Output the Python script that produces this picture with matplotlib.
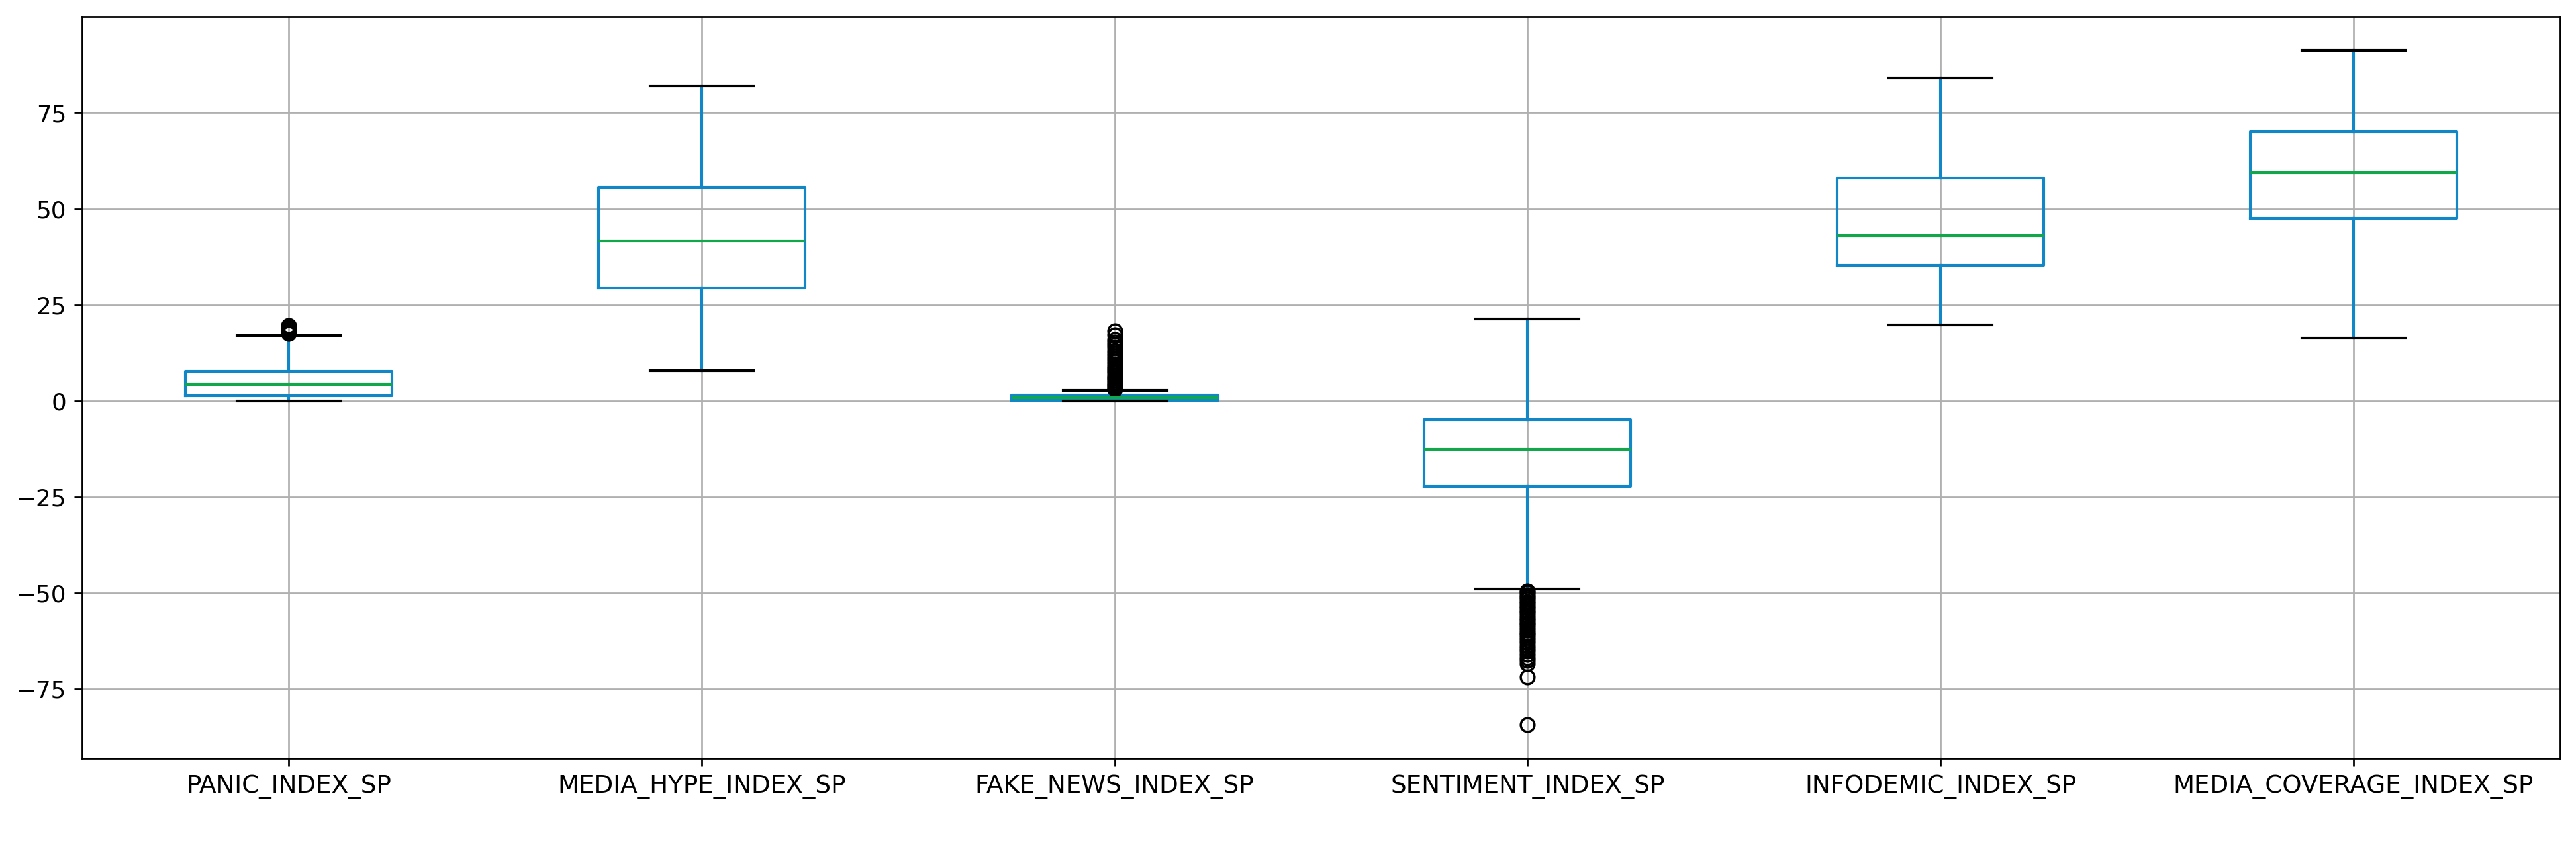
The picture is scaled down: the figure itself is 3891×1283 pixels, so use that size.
import matplotlib
matplotlib.use("Agg")
import matplotlib.pyplot as plt

# --- Data (box summary per column) ---
labels = ["PANIC_INDEX_SP", "MEDIA_HYPE_INDEX_SP", "FAKE_NEWS_INDEX_SP",
          "SENTIMENT_INDEX_SP", "INFODEMIC_INDEX_SP", "MEDIA_COVERAGE_INDEX_SP"]
whislo = [0.0, 7.8, 0.0, -49.0, 19.7, 16.3]
q1 = [1.4, 29.5, 0.2, -22.3, 35.2, 47.5]
med = [4.2, 41.7, 0.9, -12.7, 43.1, 59.4]
q3 = [7.7, 55.6, 1.5, -4.8, 58.0, 70.0]
whishi = [17.0, 81.9, 2.8, 21.3, 84.1, 91.3]

panic_out = [17.6, 18.1, 18.6, 19.1, 19.6]
hype_out = []
fake_out = [3.0, 3.4, 3.9, 4.3, 4.8, 5.3, 5.8, 6.2, 6.7, 7.3, 7.9, 8.4, 9.0,
            9.6, 10.3, 11.0, 11.7, 12.4, 13.1, 13.9, 14.6, 15.3, 16.0, 17.2, 18.3]
sent_out = [-49.4, -49.9, -50.5, -51.1, -51.6, -52.2, -52.8, -53.4, -54.0,
            -54.6, -55.2, -55.8, -56.5, -57.1, -57.7, -58.3, -59.0, -59.6,
            -60.3, -60.9, -61.6, -62.3, -63.0, -63.7, -64.4, -65.2, -66.0,
            -66.8, -67.6, -68.5, -71.8, -84.3]
info_out = []
cover_out = []
fliers = [panic_out, hype_out, fake_out, sent_out, info_out, cover_out]

stats = []
for i in range(len(labels)):
    stats.append({"label": labels[i], "whislo": whislo[i], "q1": q1[i],
                  "med": med[i], "q3": q3[i], "whishi": whishi[i],
                  "fliers": fliers[i]})

# --- Plot ---
blue = "#1287c8"
green = "#10a84a"
lw = 1.2

fig = plt.figure(figsize=(15.68, 5.17), dpi=248.2)
ax = fig.add_axes([0.0319, 0.1067, 0.9617, 0.8738])
ax.bxp(stats, widths=0.5,
       boxprops=dict(color=blue, linewidth=lw),
       whiskerprops=dict(color=blue, linewidth=lw),
       medianprops=dict(color=green, linewidth=lw),
       capprops=dict(color="k", linewidth=lw),
       flierprops=dict(marker="o", markerfacecolor="none",
                       markeredgecolor="k", markersize=6))
ax.set_yticks([-75, -50, -25, 0, 25, 50, 75])
ax.tick_params(axis="x", labelsize=10.8)
ax.tick_params(axis="y", labelsize=10.4)
ax.grid(True, color="#b0b0b0", linewidth=0.8)
ax.set_axisbelow(True)

fig.savefig("out.png", dpi=248.2)
